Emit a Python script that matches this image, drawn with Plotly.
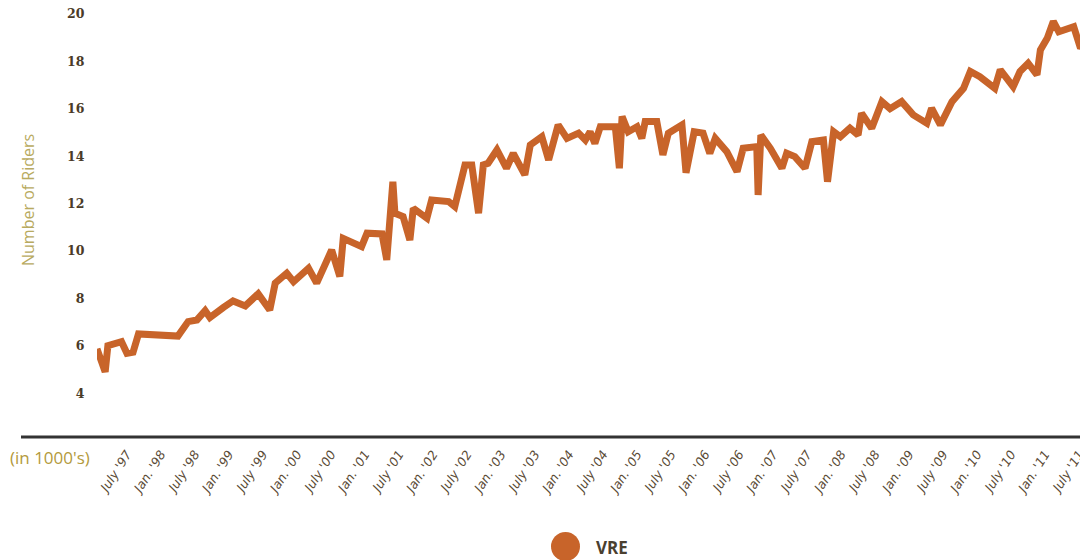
import plotly.graph_objects as go

# VRE monthly riders (thousands) at its turning points
year = [1997.06, 1997.18, 1997.22, 1997.42, 1997.50, 1997.59, 1997.67, 1998.18, 1998.25, 1998.40,
        1998.53, 1998.65, 1998.72, 1998.92, 1999.06, 1999.24, 1999.43, 1999.60, 1999.68, 1999.85,
        1999.95, 2000.17, 2000.29, 2000.51, 2000.63, 2000.68, 2000.95, 2001.03, 2001.25, 2001.32,
        2001.41, 2001.44, 2001.56, 2001.66, 2001.71, 2001.91, 2001.98, 2002.23, 2002.32, 2002.47,
        2002.57, 2002.67, 2002.74, 2002.81, 2002.94, 2003.08, 2003.18, 2003.35, 2003.43, 2003.60,
        2003.70, 2003.84, 2003.97, 2004.14, 2004.24, 2004.31, 2004.38, 2004.46, 2004.68, 2004.74,
        2004.78, 2004.87, 2005.00, 2005.07, 2005.12, 2005.29, 2005.38, 2005.46, 2005.66, 2005.72,
        2005.84, 2005.97, 2006.07, 2006.15, 2006.32, 2006.47, 2006.56, 2006.76, 2006.78, 2006.82,
        2006.96, 2007.13, 2007.20, 2007.32, 2007.47, 2007.57, 2007.74, 2007.80, 2007.89, 2007.99,
        2008.13, 2008.25, 2008.30, 2008.45, 2008.60, 2008.72, 2008.89, 2009.06, 2009.26, 2009.33,
        2009.46, 2009.63, 2009.80, 2009.90, 2010.04, 2010.26, 2010.34, 2010.53, 2010.63, 2010.75,
        2010.88, 2010.93, 2011.03, 2011.12, 2011.20, 2011.42, 2011.52, 2011.63]
riders = [5.87, 4.9, 6.0, 6.17, 5.68, 5.73, 6.5, 6.46, 6.41, 7.02,
          7.09, 7.48, 7.19, 7.62, 7.89, 7.68, 8.19, 7.51, 8.64, 9.06,
          8.70, 9.27, 8.64, 10.04, 8.92, 10.53, 10.18, 10.75, 10.72, 9.62,
          12.92, 11.59, 11.45, 10.46, 11.80, 11.38, 12.15, 12.08, 11.87, 13.63,
          13.63, 11.59, 13.63, 13.70, 14.26, 13.49, 14.12, 13.21, 14.47, 14.82,
          13.84, 15.32, 14.75, 14.97, 14.68, 15.03, 14.54, 15.24, 15.24, 13.49,
          15.67, 15.03, 15.24, 14.75, 15.46, 15.46, 14.05, 14.97, 15.32, 13.3,
          15.03, 14.97, 14.12, 14.75, 14.19, 13.35, 14.33, 14.40, 12.36, 14.89,
          14.33, 13.49, 14.12, 13.98, 13.49, 14.61, 14.68, 12.92, 15.03, 14.82,
          15.18, 14.89, 15.81, 15.18, 16.30, 16.0, 16.30, 15.74, 15.39, 16.02,
          15.32, 16.30, 16.86, 17.57, 17.35, 16.86, 17.64, 16.93, 17.57, 17.92,
          17.43, 18.48, 18.97, 19.68, 19.25, 19.46, 18.55, 18.97]

tick_pos = [1997.5 + 0.5 * i for i in range(29)]
tick_text = []
for i, t in enumerate(tick_pos):
    yy = int(t) % 100
    if i % 2 == 0:
        tick_text.append("July '%02d" % yy)
    else:
        tick_text.append("Jan. '%02d" % yy)

orange = "#c8642a"

# page has an 8px body margin, so the figure is laid out 8px smaller
H = 429.0  # plot height in px


def px(x):
    return (x - 97) / 991.0


def py(y):
    return (437 - y) / H


fig = go.Figure()
fig.add_trace(go.Scatter(x=year, y=riders, mode="lines", name="VRE",
                         line=dict(color=orange, width=7), showlegend=False))

fig.update_layout(
    width=1080, height=552,
    margin=dict(l=89, r=0, t=0, b=123),
    plot_bgcolor="white", paper_bgcolor="white",
    xaxis=dict(range=[1997.06, 2011.63], tickvals=tick_pos, ticktext=tick_text,
               tickangle=-57, showgrid=False, zeroline=False, showline=False,
               automargin=False, ticks="outside", ticklen=4, tickcolor="rgba(0,0,0,0)",
               ticklabeloverflow="allow",
               tickfont=dict(family="DejaVu Sans", size=12.5, color="#5a4a35", style="italic")),
    yaxis=dict(range=[2.15, 20.25], tickvals=[4, 6, 8, 10, 12, 14, 16, 18, 20],
               showgrid=False, zeroline=False, ticks="outside", ticklen=9,
               tickcolor="rgba(0,0,0,0)", automargin=False, ticklabeloverflow="allow",
               tickfont=dict(family="DejaVu Serif", size=12.5, color="#4a3b28", weight="bold")),
    shapes=[
        dict(type="line", xref="paper", yref="paper", x0=px(21), x1=1, y0=0, y1=0,
             line=dict(color="#333333", width=3)),
        dict(type="circle", xref="paper", yref="paper",
             x0=px(551), x1=px(580), y0=py(561), y1=py(532),
             fillcolor=orange, line=dict(width=0)),
    ],
    annotations=[
        dict(text="Number of Riders", textangle=-90, xref="paper", yref="paper",
             x=px(28), y=py(200), xanchor="center", yanchor="middle", showarrow=False,
             font=dict(family="Open Sans", size=16, color="#b8aa60")),
        dict(text="(in 1000's)", xref="paper", yref="paper",
             x=px(50), y=py(457), xanchor="center", yanchor="middle", showarrow=False,
             font=dict(family="Open Sans", size=17, color="#b39a3c")),
        dict(text="<b>VRE</b>", xref="paper", yref="paper", xanchor="left", yanchor="middle",
             x=px(594), y=py(547), showarrow=False,
             font=dict(family="Open Sans", size=17, color="#4a4030")),
    ],
)

fig.write_html("out.html")
